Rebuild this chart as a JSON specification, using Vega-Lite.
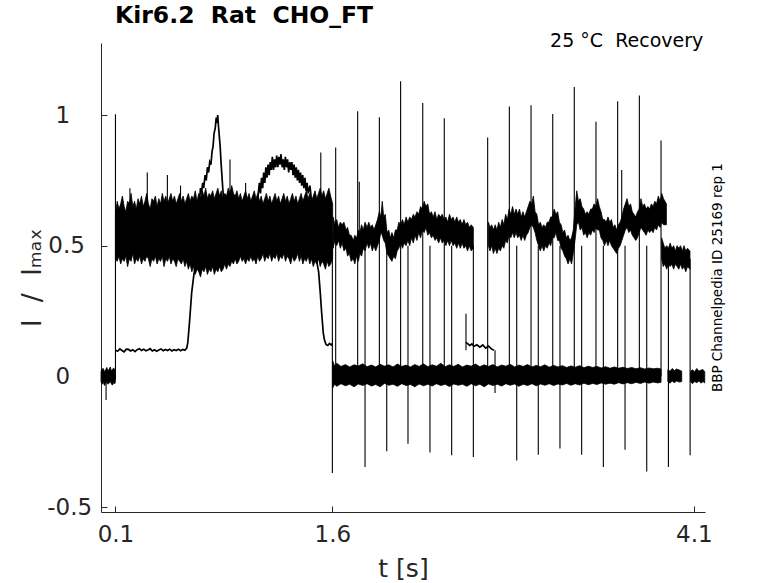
{
"$schema": "https://vega.github.io/schema/vega-lite/v6.json",
"width": 604, "height": 469,
"autosize": "none",
"padding": {"left": 101, "top": 43, "right": 73, "bottom": 71},
"title": {"text": "Kir6.2\u00a0\u00a0Rat\u00a0\u00a0CHO_FT", "anchor": "start", "frame": "group", "fontSize": 23.5, "fontWeight": "bold", "font": "DejaVu Sans", "color": "#000000", "baseline": "alphabetic", "offset": 16.3, "dx": 14, "dy": 30},
"config": {"view": {"stroke": null}, "font": "DejaVu Sans"},
"datasets": {
"bands": [
{"s":"a0","t":0,"v":-0.02,"v2":0.02},{"s":"a0","t":0.008,"v":-0.03,"v2":0.028},{"s":"a0","t":0.016,"v":-0.022,"v2":0.03},{"s":"a0","t":0.024,"v":-0.035,"v2":0.018},{"s":"a0","t":0.032,"v":-0.028,"v2":0.025},{"s":"a0","t":0.04,"v":-0.02,"v2":0.034},{"s":"a0","t":0.048,"v":-0.03,"v2":0.022},{"s":"a0","t":0.056,"v":-0.026,"v2":0.027},{"s":"a0","t":0.064,"v":-0.018,"v2":0.036},{"s":"a0","t":0.072,"v":-0.03,"v2":0.02},{"s":"a0","t":0.08,"v":-0.033,"v2":0.028},{"s":"a0","t":0.088,"v":-0.024,"v2":0.032},{"s":"a0","t":0.096,"v":-0.028,"v2":0.024},{"s":"a0","t":0.1,"v":-0.02,"v2":0.02},
{"s":"a1","t":0.1,"v":0.45,"v2":0.62},{"s":"a1","t":0.112,"v":0.44,"v2":0.67},{"s":"a1","t":0.124,"v":0.46,"v2":0.64},{"s":"a1","t":0.136,"v":0.43,"v2":0.66},{"s":"a1","t":0.148,"v":0.45,"v2":0.69},{"s":"a1","t":0.16,"v":0.44,"v2":0.65},{"s":"a1","t":0.172,"v":0.46,"v2":0.63},{"s":"a1","t":0.184,"v":0.42,"v2":0.67},{"s":"a1","t":0.196,"v":0.45,"v2":0.66},{"s":"a1","t":0.208,"v":0.44,"v2":0.7},{"s":"a1","t":0.22,"v":0.47,"v2":0.65},{"s":"a1","t":0.232,"v":0.43,"v2":0.67},{"s":"a1","t":0.244,"v":0.45,"v2":0.64},{"s":"a1","t":0.256,"v":0.44,"v2":0.68},{"s":"a1","t":0.268,"v":0.46,"v2":0.66},{"s":"a1","t":0.28,"v":0.43,"v2":0.69},{"s":"a1","t":0.292,"v":0.45,"v2":0.65},{"s":"a1","t":0.304,"v":0.44,"v2":0.67},{"s":"a1","t":0.316,"v":0.46,"v2":0.7},{"s":"a1","t":0.328,"v":0.45,"v2":0.66},{"s":"a1","t":0.34,"v":0.42,"v2":0.64},{"s":"a1","t":0.352,"v":0.45,"v2":0.68},{"s":"a1","t":0.364,"v":0.44,"v2":0.67},{"s":"a1","t":0.376,"v":0.46,"v2":0.69},{"s":"a1","t":0.388,"v":0.43,"v2":0.65},{"s":"a1","t":0.4,"v":0.45,"v2":0.68},{"s":"a1","t":0.412,"v":0.44,"v2":0.66},{"s":"a1","t":0.424,"v":0.46,"v2":0.7},{"s":"a1","t":0.436,"v":0.42,"v2":0.67},{"s":"a1","t":0.448,"v":0.45,"v2":0.69},{"s":"a1","t":0.46,"v":0.44,"v2":0.66},{"s":"a1","t":0.472,"v":0.46,"v2":0.68},{"s":"a1","t":0.484,"v":0.43,"v2":0.7},{"s":"a1","t":0.496,"v":0.45,"v2":0.67},{"s":"a1","t":0.508,"v":0.44,"v2":0.69},{"s":"a1","t":0.52,"v":0.42,"v2":0.66},{"s":"a1","t":0.532,"v":0.45,"v2":0.68},{"s":"a1","t":0.544,"v":0.44,"v2":0.7},{"s":"a1","t":0.556,"v":0.43,"v2":0.67},{"s":"a1","t":0.568,"v":0.45,"v2":0.69},{"s":"a1","t":0.58,"v":0.42,"v2":0.66},{"s":"a1","t":0.592,"v":0.44,"v2":0.68},{"s":"a1","t":0.604,"v":0.41,"v2":0.7},{"s":"a1","t":0.616,"v":0.43,"v2":0.67},{"s":"a1","t":0.628,"v":0.4,"v2":0.69},{"s":"a1","t":0.64,"v":0.42,"v2":0.68},{"s":"a1","t":0.652,"v":0.39,"v2":0.71},{"s":"a1","t":0.664,"v":0.41,"v2":0.67},{"s":"a1","t":0.676,"v":0.4,"v2":0.7},{"s":"a1","t":0.688,"v":0.38,"v2":0.68},{"s":"a1","t":0.7,"v":0.41,"v2":0.71},{"s":"a1","t":0.712,"v":0.4,"v2":0.69},{"s":"a1","t":0.724,"v":0.42,"v2":0.72},{"s":"a1","t":0.736,"v":0.39,"v2":0.68},{"s":"a1","t":0.748,"v":0.41,"v2":0.7},{"s":"a1","t":0.76,"v":0.4,"v2":0.69},{"s":"a1","t":0.772,"v":0.42,"v2":0.71},{"s":"a1","t":0.784,"v":0.39,"v2":0.68},{"s":"a1","t":0.796,"v":0.41,"v2":0.7},{"s":"a1","t":0.808,"v":0.4,"v2":0.72},{"s":"a1","t":0.82,"v":0.42,"v2":0.69},{"s":"a1","t":0.832,"v":0.4,"v2":0.71},{"s":"a1","t":0.844,"v":0.41,"v2":0.68},{"s":"a1","t":0.856,"v":0.43,"v2":0.7},{"s":"a1","t":0.868,"v":0.41,"v2":0.69},{"s":"a1","t":0.88,"v":0.43,"v2":0.72},{"s":"a1","t":0.892,"v":0.42,"v2":0.7},{"s":"a1","t":0.904,"v":0.44,"v2":0.73},{"s":"a1","t":0.916,"v":0.43,"v2":0.7},{"s":"a1","t":0.928,"v":0.45,"v2":0.69},{"s":"a1","t":0.94,"v":0.43,"v2":0.71},{"s":"a1","t":0.952,"v":0.44,"v2":0.68},{"s":"a1","t":0.964,"v":0.46,"v2":0.7},{"s":"a1","t":0.976,"v":0.44,"v2":0.67},{"s":"a1","t":0.988,"v":0.45,"v2":0.69},{"s":"a1","t":1.0,"v":0.43,"v2":0.71},{"s":"a1","t":1.012,"v":0.45,"v2":0.68},{"s":"a1","t":1.024,"v":0.44,"v2":0.7},{"s":"a1","t":1.036,"v":0.46,"v2":0.67},{"s":"a1","t":1.048,"v":0.44,"v2":0.69},{"s":"a1","t":1.06,"v":0.45,"v2":0.71},{"s":"a1","t":1.072,"v":0.43,"v2":0.68},{"s":"a1","t":1.084,"v":0.46,"v2":0.7},{"s":"a1","t":1.096,"v":0.44,"v2":0.67},{"s":"a1","t":1.108,"v":0.45,"v2":0.69},{"s":"a1","t":1.12,"v":0.47,"v2":0.66},{"s":"a1","t":1.132,"v":0.44,"v2":0.68},{"s":"a1","t":1.144,"v":0.46,"v2":0.7},{"s":"a1","t":1.156,"v":0.45,"v2":0.67},{"s":"a1","t":1.168,"v":0.47,"v2":0.69},{"s":"a1","t":1.18,"v":0.44,"v2":0.66},{"s":"a1","t":1.192,"v":0.46,"v2":0.68},{"s":"a1","t":1.204,"v":0.45,"v2":0.7},{"s":"a1","t":1.216,"v":0.47,"v2":0.67},{"s":"a1","t":1.228,"v":0.44,"v2":0.69},{"s":"a1","t":1.24,"v":0.46,"v2":0.66},{"s":"a1","t":1.252,"v":0.45,"v2":0.68},{"s":"a1","t":1.264,"v":0.47,"v2":0.7},{"s":"a1","t":1.276,"v":0.44,"v2":0.67},{"s":"a1","t":1.288,"v":0.46,"v2":0.69},{"s":"a1","t":1.3,"v":0.45,"v2":0.66},{"s":"a1","t":1.312,"v":0.43,"v2":0.68},{"s":"a1","t":1.324,"v":0.46,"v2":0.7},{"s":"a1","t":1.336,"v":0.44,"v2":0.67},{"s":"a1","t":1.348,"v":0.45,"v2":0.69},{"s":"a1","t":1.36,"v":0.47,"v2":0.66},{"s":"a1","t":1.372,"v":0.44,"v2":0.68},{"s":"a1","t":1.384,"v":0.46,"v2":0.7},{"s":"a1","t":1.396,"v":0.43,"v2":0.67},{"s":"a1","t":1.408,"v":0.45,"v2":0.69},{"s":"a1","t":1.42,"v":0.44,"v2":0.71},{"s":"a1","t":1.432,"v":0.46,"v2":0.68},{"s":"a1","t":1.444,"v":0.43,"v2":0.7},{"s":"a1","t":1.456,"v":0.45,"v2":0.67},{"s":"a1","t":1.468,"v":0.42,"v2":0.69},{"s":"a1","t":1.48,"v":0.44,"v2":0.71},{"s":"a1","t":1.492,"v":0.43,"v2":0.68},{"s":"a1","t":1.504,"v":0.45,"v2":0.7},{"s":"a1","t":1.516,"v":0.42,"v2":0.72},{"s":"a1","t":1.528,"v":0.44,"v2":0.69},{"s":"a1","t":1.54,"v":0.43,"v2":0.71},{"s":"a1","t":1.552,"v":0.41,"v2":0.68},{"s":"a1","t":1.564,"v":0.44,"v2":0.7},{"s":"a1","t":1.576,"v":0.42,"v2":0.72},{"s":"a1","t":1.588,"v":0.43,"v2":0.69},{"s":"a1","t":1.602,"v":0.45,"v2":0.66},
{"s":"a2","t":1.602,"v":-0.045,"v2":0.06},{"s":"a2","t":1.615,"v":-0.03,"v2":0.04},{"s":"a2","t":1.63,"v":-0.038,"v2":0.05},{"s":"a2","t":1.66,"v":-0.028,"v2":0.038},{"s":"a2","t":1.69,"v":-0.036,"v2":0.045},{"s":"a2","t":1.72,"v":-0.03,"v2":0.036},{"s":"a2","t":1.75,"v":-0.04,"v2":0.044},{"s":"a2","t":1.78,"v":-0.029,"v2":0.04},{"s":"a2","t":1.81,"v":-0.035,"v2":0.048},{"s":"a2","t":1.84,"v":-0.028,"v2":0.037},{"s":"a2","t":1.87,"v":-0.037,"v2":0.043},{"s":"a2","t":1.9,"v":-0.031,"v2":0.036},{"s":"a2","t":1.93,"v":-0.04,"v2":0.046},{"s":"a2","t":1.96,"v":-0.027,"v2":0.039},{"s":"a2","t":1.99,"v":-0.034,"v2":0.044},{"s":"a2","t":2.02,"v":-0.03,"v2":0.036},{"s":"a2","t":2.05,"v":-0.038,"v2":0.047},{"s":"a2","t":2.08,"v":-0.028,"v2":0.038},{"s":"a2","t":2.11,"v":-0.035,"v2":0.043},{"s":"a2","t":2.14,"v":-0.031,"v2":0.036},{"s":"a2","t":2.17,"v":-0.04,"v2":0.045},{"s":"a2","t":2.2,"v":-0.029,"v2":0.038},{"s":"a2","t":2.23,"v":-0.036,"v2":0.048},{"s":"a2","t":2.26,"v":-0.03,"v2":0.037},{"s":"a2","t":2.29,"v":-0.037,"v2":0.044},{"s":"a2","t":2.32,"v":-0.028,"v2":0.039},{"s":"a2","t":2.35,"v":-0.035,"v2":0.05},{"s":"a2","t":2.38,"v":-0.03,"v2":0.037},{"s":"a2","t":2.41,"v":-0.039,"v2":0.044},{"s":"a2","t":2.44,"v":-0.029,"v2":0.038},{"s":"a2","t":2.47,"v":-0.034,"v2":0.046},{"s":"a2","t":2.5,"v":-0.03,"v2":0.036},{"s":"a2","t":2.53,"v":-0.038,"v2":0.043},{"s":"a2","t":2.56,"v":-0.028,"v2":0.039},{"s":"a2","t":2.59,"v":-0.036,"v2":0.047},{"s":"a2","t":2.62,"v":-0.03,"v2":0.037},{"s":"a2","t":2.65,"v":-0.04,"v2":0.044},{"s":"a2","t":2.68,"v":-0.029,"v2":0.038},{"s":"a2","t":2.71,"v":-0.035,"v2":0.045},{"s":"a2","t":2.74,"v":-0.03,"v2":0.036},{"s":"a2","t":2.77,"v":-0.037,"v2":0.043},{"s":"a2","t":2.8,"v":-0.028,"v2":0.039},{"s":"a2","t":2.83,"v":-0.034,"v2":0.046},{"s":"a2","t":2.86,"v":-0.029,"v2":0.036},{"s":"a2","t":2.89,"v":-0.038,"v2":0.043},{"s":"a2","t":2.92,"v":-0.03,"v2":0.038},{"s":"a2","t":2.95,"v":-0.035,"v2":0.045},{"s":"a2","t":2.98,"v":-0.028,"v2":0.036},{"s":"a2","t":3.01,"v":-0.036,"v2":0.042},{"s":"a2","t":3.04,"v":-0.029,"v2":0.037},{"s":"a2","t":3.07,"v":-0.034,"v2":0.044},{"s":"a2","t":3.1,"v":-0.028,"v2":0.035},{"s":"a2","t":3.13,"v":-0.035,"v2":0.042},{"s":"a2","t":3.16,"v":-0.029,"v2":0.036},{"s":"a2","t":3.19,"v":-0.033,"v2":0.041},{"s":"a2","t":3.22,"v":-0.027,"v2":0.034},{"s":"a2","t":3.25,"v":-0.034,"v2":0.04},{"s":"a2","t":3.28,"v":-0.028,"v2":0.035},{"s":"a2","t":3.31,"v":-0.033,"v2":0.041},{"s":"a2","t":3.34,"v":-0.026,"v2":0.033},{"s":"a2","t":3.37,"v":-0.032,"v2":0.039},{"s":"a2","t":3.4,"v":-0.027,"v2":0.034},{"s":"a2","t":3.43,"v":-0.031,"v2":0.038},{"s":"a2","t":3.46,"v":-0.025,"v2":0.032},{"s":"a2","t":3.49,"v":-0.03,"v2":0.037},{"s":"a2","t":3.52,"v":-0.026,"v2":0.031},{"s":"a2","t":3.55,"v":-0.03,"v2":0.036},{"s":"a2","t":3.58,"v":-0.024,"v2":0.031},{"s":"a2","t":3.61,"v":-0.029,"v2":0.035},{"s":"a2","t":3.64,"v":-0.024,"v2":0.03},{"s":"a2","t":3.67,"v":-0.028,"v2":0.034},{"s":"a2","t":3.7,"v":-0.023,"v2":0.029},{"s":"a2","t":3.73,"v":-0.027,"v2":0.033},{"s":"a2","t":3.76,"v":-0.022,"v2":0.028},{"s":"a2","t":3.79,"v":-0.026,"v2":0.032},{"s":"a2","t":3.82,"v":-0.022,"v2":0.029},{"s":"a2","t":3.85,"v":-0.025,"v2":0.031},{"s":"a2","t":3.873,"v":-0.023,"v2":0.028},
{"s":"a3","t":3.92,"v":-0.02,"v2":0.025},{"s":"a3","t":3.935,"v":-0.026,"v2":0.02},{"s":"a3","t":3.95,"v":-0.018,"v2":0.03},{"s":"a3","t":3.965,"v":-0.024,"v2":0.022},{"s":"a3","t":3.98,"v":-0.018,"v2":0.028},{"s":"a3","t":4.0,"v":-0.022,"v2":0.024},{"s":"a3","t":4.016,"v":-0.02,"v2":0.02},
{"s":"a4","t":4.076,"v":-0.02,"v2":0.02},{"s":"a4","t":4.09,"v":-0.028,"v2":0.025},{"s":"a4","t":4.105,"v":-0.02,"v2":0.018},{"s":"a4","t":4.12,"v":-0.024,"v2":0.03},{"s":"a4","t":4.135,"v":-0.018,"v2":0.02},{"s":"a4","t":4.15,"v":-0.026,"v2":0.024},{"s":"a4","t":4.163,"v":-0.02,"v2":0.026},{"s":"a4","t":4.175,"v":-0.025,"v2":0.018},
{"s":"u1","t":1.605,"v":0.49,"v2":0.61},{"s":"u1","t":1.618,"v":0.52,"v2":0.58},{"s":"u1","t":1.63,"v":0.5,"v2":0.6},{"s":"u1","t":1.643,"v":0.52,"v2":0.57},{"s":"u1","t":1.655,"v":0.49,"v2":0.59},{"s":"u1","t":1.668,"v":0.51,"v2":0.58},{"s":"u1","t":1.68,"v":0.48,"v2":0.59},{"s":"u1","t":1.695,"v":0.49,"v2":0.56},{"s":"u1","t":1.705,"v":0.46,"v2":0.57},{"s":"u1","t":1.718,"v":0.47,"v2":0.54},{"s":"u1","t":1.73,"v":0.44,"v2":0.54},{"s":"u1","t":1.745,"v":0.45,"v2":0.52},{"s":"u1","t":1.755,"v":0.43,"v2":0.54},{"s":"u1","t":1.768,"v":0.46,"v2":0.53},{"s":"u1","t":1.78,"v":0.44,"v2":0.56},{"s":"u1","t":1.79,"v":0.47,"v2":0.55},{"s":"u1","t":1.802,"v":0.46,"v2":0.58},{"s":"u1","t":1.814,"v":0.49,"v2":0.56},{"s":"u1","t":1.826,"v":0.48,"v2":0.59},{"s":"u1","t":1.84,"v":0.51,"v2":0.57},{"s":"u1","t":1.852,"v":0.49,"v2":0.59},{"s":"u1","t":1.864,"v":0.51,"v2":0.57},{"s":"u1","t":1.876,"v":0.48,"v2":0.58},{"s":"u1","t":1.888,"v":0.5,"v2":0.56},{"s":"u1","t":1.9,"v":0.48,"v2":0.58},{"s":"u1","t":1.912,"v":0.5,"v2":0.6},{"s":"u1","t":1.925,"v":0.52,"v2":0.63},{"s":"u1","t":1.935,"v":0.55,"v2":0.61},{"s":"u1","t":1.945,"v":0.54,"v2":0.67},{"s":"u1","t":1.955,"v":0.52,"v2":0.61},{"s":"u1","t":1.966,"v":0.51,"v2":0.62},{"s":"u1","t":1.978,"v":0.47,"v2":0.55},{"s":"u1","t":1.99,"v":0.46,"v2":0.56},{"s":"u1","t":2.0,"v":0.45,"v2":0.53},{"s":"u1","t":2.012,"v":0.44,"v2":0.55},{"s":"u1","t":2.024,"v":0.46,"v2":0.53},{"s":"u1","t":2.036,"v":0.45,"v2":0.56},{"s":"u1","t":2.048,"v":0.48,"v2":0.56},{"s":"u1","t":2.06,"v":0.49,"v2":0.59},{"s":"u1","t":2.072,"v":0.51,"v2":0.58},{"s":"u1","t":2.085,"v":0.49,"v2":0.6},{"s":"u1","t":2.097,"v":0.51,"v2":0.58},{"s":"u1","t":2.11,"v":0.5,"v2":0.61},{"s":"u1","t":2.122,"v":0.52,"v2":0.59},{"s":"u1","t":2.135,"v":0.5,"v2":0.61},{"s":"u1","t":2.147,"v":0.53,"v2":0.6},{"s":"u1","t":2.16,"v":0.51,"v2":0.62},{"s":"u1","t":2.172,"v":0.54,"v2":0.61},{"s":"u1","t":2.185,"v":0.52,"v2":0.63},{"s":"u1","t":2.197,"v":0.55,"v2":0.62},{"s":"u1","t":2.21,"v":0.53,"v2":0.65},{"s":"u1","t":2.222,"v":0.56,"v2":0.64},{"s":"u1","t":2.235,"v":0.55,"v2":0.67},{"s":"u1","t":2.247,"v":0.57,"v2":0.65},{"s":"u1","t":2.26,"v":0.54,"v2":0.66},{"s":"u1","t":2.272,"v":0.55,"v2":0.62},{"s":"u1","t":2.285,"v":0.53,"v2":0.63},{"s":"u1","t":2.297,"v":0.54,"v2":0.61},{"s":"u1","t":2.31,"v":0.52,"v2":0.63},{"s":"u1","t":2.322,"v":0.53,"v2":0.6},{"s":"u1","t":2.335,"v":0.51,"v2":0.62},{"s":"u1","t":2.347,"v":0.53,"v2":0.61},{"s":"u1","t":2.36,"v":0.51,"v2":0.62},{"s":"u1","t":2.372,"v":0.52,"v2":0.6},{"s":"u1","t":2.385,"v":0.5,"v2":0.61},{"s":"u1","t":2.397,"v":0.52,"v2":0.59},{"s":"u1","t":2.41,"v":0.5,"v2":0.62},{"s":"u1","t":2.422,"v":0.52,"v2":0.6},{"s":"u1","t":2.435,"v":0.5,"v2":0.61},{"s":"u1","t":2.447,"v":0.51,"v2":0.59},{"s":"u1","t":2.46,"v":0.49,"v2":0.61},{"s":"u1","t":2.472,"v":0.51,"v2":0.59},{"s":"u1","t":2.485,"v":0.49,"v2":0.6},{"s":"u1","t":2.497,"v":0.51,"v2":0.58},{"s":"u1","t":2.51,"v":0.49,"v2":0.6},{"s":"u1","t":2.522,"v":0.5,"v2":0.58},{"s":"u1","t":2.535,"v":0.48,"v2":0.59},{"s":"u1","t":2.547,"v":0.5,"v2":0.57},{"s":"u1","t":2.56,"v":0.48,"v2":0.58},{"s":"u1","t":2.575,"v":0.49,"v2":0.57},
{"s":"u2","t":2.679,"v":0.5,"v2":0.59},{"s":"u2","t":2.69,"v":0.48,"v2":0.57},{"s":"u2","t":2.702,"v":0.5,"v2":0.58},{"s":"u2","t":2.714,"v":0.47,"v2":0.56},{"s":"u2","t":2.726,"v":0.49,"v2":0.58},{"s":"u2","t":2.738,"v":0.47,"v2":0.56},{"s":"u2","t":2.75,"v":0.49,"v2":0.59},{"s":"u2","t":2.762,"v":0.48,"v2":0.57},{"s":"u2","t":2.774,"v":0.5,"v2":0.6},{"s":"u2","t":2.786,"v":0.49,"v2":0.58},{"s":"u2","t":2.798,"v":0.52,"v2":0.62},{"s":"u2","t":2.81,"v":0.51,"v2":0.6},{"s":"u2","t":2.822,"v":0.54,"v2":0.64},{"s":"u2","t":2.834,"v":0.53,"v2":0.62},{"s":"u2","t":2.846,"v":0.55,"v2":0.65},{"s":"u2","t":2.858,"v":0.53,"v2":0.62},{"s":"u2","t":2.87,"v":0.55,"v2":0.64},{"s":"u2","t":2.882,"v":0.53,"v2":0.62},{"s":"u2","t":2.894,"v":0.54,"v2":0.64},{"s":"u2","t":2.906,"v":0.52,"v2":0.61},{"s":"u2","t":2.918,"v":0.54,"v2":0.63},{"s":"u2","t":2.93,"v":0.52,"v2":0.61},{"s":"u2","t":2.942,"v":0.54,"v2":0.63},{"s":"u2","t":2.954,"v":0.55,"v2":0.65},{"s":"u2","t":2.966,"v":0.57,"v2":0.67},{"s":"u2","t":2.978,"v":0.58,"v2":0.66},{"s":"u2","t":2.99,"v":0.57,"v2":0.69},{"s":"u2","t":3.002,"v":0.55,"v2":0.63},{"s":"u2","t":3.014,"v":0.52,"v2":0.62},{"s":"u2","t":3.026,"v":0.5,"v2":0.58},{"s":"u2","t":3.038,"v":0.48,"v2":0.59},{"s":"u2","t":3.05,"v":0.5,"v2":0.57},{"s":"u2","t":3.062,"v":0.48,"v2":0.58},{"s":"u2","t":3.074,"v":0.5,"v2":0.57},{"s":"u2","t":3.086,"v":0.49,"v2":0.59},{"s":"u2","t":3.098,"v":0.51,"v2":0.59},{"s":"u2","t":3.11,"v":0.5,"v2":0.61},{"s":"u2","t":3.122,"v":0.53,"v2":0.61},{"s":"u2","t":3.134,"v":0.53,"v2":0.64},{"s":"u2","t":3.146,"v":0.55,"v2":0.62},{"s":"u2","t":3.158,"v":0.52,"v2":0.63},{"s":"u2","t":3.17,"v":0.52,"v2":0.59},{"s":"u2","t":3.182,"v":0.49,"v2":0.58},{"s":"u2","t":3.194,"v":0.48,"v2":0.55},{"s":"u2","t":3.206,"v":0.46,"v2":0.56},{"s":"u2","t":3.218,"v":0.45,"v2":0.53},{"s":"u2","t":3.23,"v":0.43,"v2":0.54},{"s":"u2","t":3.242,"v":0.45,"v2":0.52},{"s":"u2","t":3.254,"v":0.43,"v2":0.53},{"s":"u2","t":3.266,"v":0.47,"v2":0.56},{"s":"u2","t":3.278,"v":0.52,"v2":0.64},{"s":"u2","t":3.29,"v":0.58,"v2":0.71},{"s":"u2","t":3.302,"v":0.59,"v2":0.67},{"s":"u2","t":3.314,"v":0.56,"v2":0.68},{"s":"u2","t":3.326,"v":0.57,"v2":0.65},{"s":"u2","t":3.338,"v":0.54,"v2":0.64},{"s":"u2","t":3.35,"v":0.55,"v2":0.62},{"s":"u2","t":3.362,"v":0.53,"v2":0.63},{"s":"u2","t":3.374,"v":0.55,"v2":0.62},{"s":"u2","t":3.386,"v":0.54,"v2":0.64},{"s":"u2","t":3.398,"v":0.56,"v2":0.64},{"s":"u2","t":3.41,"v":0.55,"v2":0.66},{"s":"u2","t":3.422,"v":0.57,"v2":0.65},{"s":"u2","t":3.434,"v":0.56,"v2":0.68},{"s":"u2","t":3.446,"v":0.56,"v2":0.65},{"s":"u2","t":3.458,"v":0.53,"v2":0.63},{"s":"u2","t":3.47,"v":0.52,"v2":0.6},{"s":"u2","t":3.482,"v":0.5,"v2":0.6},{"s":"u2","t":3.494,"v":0.52,"v2":0.59},{"s":"u2","t":3.506,"v":0.5,"v2":0.61},{"s":"u2","t":3.518,"v":0.52,"v2":0.59},{"s":"u2","t":3.53,"v":0.5,"v2":0.6},{"s":"u2","t":3.542,"v":0.49,"v2":0.57},{"s":"u2","t":3.554,"v":0.48,"v2":0.58},{"s":"u2","t":3.566,"v":0.47,"v2":0.56},{"s":"u2","t":3.578,"v":0.49,"v2":0.58},{"s":"u2","t":3.59,"v":0.5,"v2":0.59},{"s":"u2","t":3.602,"v":0.52,"v2":0.61},{"s":"u2","t":3.614,"v":0.54,"v2":0.64},{"s":"u2","t":3.626,"v":0.56,"v2":0.66},{"s":"u2","t":3.638,"v":0.57,"v2":0.68},{"s":"u2","t":3.65,"v":0.55,"v2":0.65},{"s":"u2","t":3.662,"v":0.56,"v2":0.66},{"s":"u2","t":3.674,"v":0.54,"v2":0.63},{"s":"u2","t":3.686,"v":0.53,"v2":0.62},{"s":"u2","t":3.698,"v":0.52,"v2":0.61},{"s":"u2","t":3.71,"v":0.53,"v2":0.63},{"s":"u2","t":3.722,"v":0.55,"v2":0.64},{"s":"u2","t":3.734,"v":0.57,"v2":0.68},{"s":"u2","t":3.746,"v":0.56,"v2":0.65},{"s":"u2","t":3.758,"v":0.55,"v2":0.66},{"s":"u2","t":3.77,"v":0.54,"v2":0.64},{"s":"u2","t":3.782,"v":0.56,"v2":0.65},{"s":"u2","t":3.794,"v":0.55,"v2":0.64},{"s":"u2","t":3.806,"v":0.56,"v2":0.66},{"s":"u2","t":3.818,"v":0.55,"v2":0.65},{"s":"u2","t":3.83,"v":0.57,"v2":0.67},{"s":"u2","t":3.842,"v":0.56,"v2":0.66},{"s":"u2","t":3.854,"v":0.58,"v2":0.69},{"s":"u2","t":3.866,"v":0.57,"v2":0.67},{"s":"u2","t":3.878,"v":0.59,"v2":0.7},{"s":"u2","t":3.89,"v":0.58,"v2":0.68},{"s":"u2","t":3.91,"v":0.58,"v2":0.66},
{"s":"u3","t":3.877,"v":0.45,"v2":0.53},{"s":"u3","t":3.888,"v":0.42,"v2":0.51},{"s":"u3","t":3.9,"v":0.43,"v2":0.49},{"s":"u3","t":3.912,"v":0.41,"v2":0.5},{"s":"u3","t":3.924,"v":0.43,"v2":0.49},{"s":"u3","t":3.936,"v":0.42,"v2":0.51},{"s":"u3","t":3.948,"v":0.43,"v2":0.49},{"s":"u3","t":3.96,"v":0.41,"v2":0.5},{"s":"u3","t":3.972,"v":0.43,"v2":0.48},{"s":"u3","t":3.984,"v":0.42,"v2":0.5},{"s":"u3","t":3.996,"v":0.41,"v2":0.49},{"s":"u3","t":4.008,"v":0.43,"v2":0.5},{"s":"u3","t":4.02,"v":0.41,"v2":0.48},{"s":"u3","t":4.032,"v":0.42,"v2":0.5},{"s":"u3","t":4.044,"v":0.4,"v2":0.48},{"s":"u3","t":4.056,"v":0.42,"v2":0.49},{"s":"u3","t":4.073,"v":0.41,"v2":0.48}
],
"traces": [
{"s":"slow","t":0.1,"v":0.1},{"s":"slow","t":0.115,"v":0.096},{"s":"slow","t":0.13,"v":0.105},{"s":"slow","t":0.145,"v":0.099},{"s":"slow","t":0.16,"v":0.094},{"s":"slow","t":0.175,"v":0.104},{"s":"slow","t":0.19,"v":0.103},{"s":"slow","t":0.205,"v":0.097},{"s":"slow","t":0.22,"v":0.102},{"s":"slow","t":0.235,"v":0.095},{"s":"slow","t":0.25,"v":0.102},{"s":"slow","t":0.265,"v":0.106},{"s":"slow","t":0.28,"v":0.099},{"s":"slow","t":0.295,"v":0.104},{"s":"slow","t":0.31,"v":0.098},{"s":"slow","t":0.325,"v":0.101},{"s":"slow","t":0.34,"v":0.106},{"s":"slow","t":0.355,"v":0.097},{"s":"slow","t":0.37,"v":0.102},{"s":"slow","t":0.385,"v":0.096},{"s":"slow","t":0.4,"v":0.101},{"s":"slow","t":0.415,"v":0.105},{"s":"slow","t":0.43,"v":0.098},{"s":"slow","t":0.445,"v":0.103},{"s":"slow","t":0.46,"v":0.099},{"s":"slow","t":0.475,"v":0.104},{"s":"slow","t":0.49,"v":0.097},{"s":"slow","t":0.505,"v":0.102},{"s":"slow","t":0.52,"v":0.099},{"s":"slow","t":0.535,"v":0.104},{"s":"slow","t":0.55,"v":0.098},{"s":"slow","t":0.565,"v":0.103},{"s":"slow","t":0.58,"v":0.1},{"s":"slow","t":0.593,"v":0.108},{"s":"slow","t":0.6,"v":0.128},{"s":"slow","t":0.608,"v":0.18},{"s":"slow","t":0.615,"v":0.229},{"s":"slow","t":0.627,"v":0.32},{"s":"slow","t":0.638,"v":0.37},{"s":"slow","t":0.65,"v":0.42},{"s":"slow","t":0.66,"v":0.5},{"s":"slow","t":0.672,"v":0.6},{"s":"slow","t":0.68,"v":0.66},{"s":"slow","t":0.688,"v":0.72},{"s":"slow","t":0.695,"v":0.7},{"s":"slow","t":0.703,"v":0.74},{"s":"slow","t":0.71,"v":0.72},{"s":"slow","t":0.72,"v":0.77},{"s":"slow","t":0.728,"v":0.75},{"s":"slow","t":0.736,"v":0.8},{"s":"slow","t":0.744,"v":0.78},{"s":"slow","t":0.752,"v":0.82},{"s":"slow","t":0.76,"v":0.81},{"s":"slow","t":0.768,"v":0.86},{"s":"slow","t":0.775,"v":0.88},{"s":"slow","t":0.782,"v":0.93},{"s":"slow","t":0.79,"v":0.95},{"s":"slow","t":0.797,"v":0.99},{"s":"slow","t":0.803,"v":0.97},{"s":"slow","t":0.807,"v":1.0},{"s":"slow","t":0.812,"v":0.96},{"s":"slow","t":0.818,"v":0.92},{"s":"slow","t":0.824,"v":0.88},{"s":"slow","t":0.83,"v":0.82},{"s":"slow","t":0.836,"v":0.77},{"s":"slow","t":0.842,"v":0.72},{"s":"slow","t":0.848,"v":0.68},{"s":"slow","t":0.855,"v":0.63},{"s":"slow","t":0.865,"v":0.6},{"s":"slow","t":0.9,"v":0.57},{"s":"slow","t":1.0,"v":0.58},{"s":"slow","t":1.07,"v":0.62},{"s":"slow","t":1.088,"v":0.7},{"s":"slow","t":1.095,"v":0.74},{"s":"slow","t":1.103,"v":0.7},{"s":"slow","t":1.11,"v":0.76},{"s":"slow","t":1.118,"v":0.72},{"s":"slow","t":1.125,"v":0.78},{"s":"slow","t":1.133,"v":0.74},{"s":"slow","t":1.14,"v":0.8},{"s":"slow","t":1.148,"v":0.76},{"s":"slow","t":1.155,"v":0.81},{"s":"slow","t":1.163,"v":0.77},{"s":"slow","t":1.17,"v":0.82},{"s":"slow","t":1.178,"v":0.79},{"s":"slow","t":1.185,"v":0.84},{"s":"slow","t":1.193,"v":0.79},{"s":"slow","t":1.2,"v":0.83},{"s":"slow","t":1.208,"v":0.8},{"s":"slow","t":1.215,"v":0.845},{"s":"slow","t":1.223,"v":0.8},{"s":"slow","t":1.23,"v":0.84},{"s":"slow","t":1.238,"v":0.81},{"s":"slow","t":1.245,"v":0.85},{"s":"slow","t":1.253,"v":0.8},{"s":"slow","t":1.26,"v":0.83},{"s":"slow","t":1.268,"v":0.79},{"s":"slow","t":1.275,"v":0.84},{"s":"slow","t":1.283,"v":0.8},{"s":"slow","t":1.29,"v":0.83},{"s":"slow","t":1.298,"v":0.78},{"s":"slow","t":1.305,"v":0.82},{"s":"slow","t":1.313,"v":0.79},{"s":"slow","t":1.32,"v":0.82},{"s":"slow","t":1.328,"v":0.77},{"s":"slow","t":1.335,"v":0.81},{"s":"slow","t":1.343,"v":0.76},{"s":"slow","t":1.35,"v":0.8},{"s":"slow","t":1.358,"v":0.75},{"s":"slow","t":1.365,"v":0.79},{"s":"slow","t":1.373,"v":0.74},{"s":"slow","t":1.38,"v":0.78},{"s":"slow","t":1.388,"v":0.73},{"s":"slow","t":1.395,"v":0.77},{"s":"slow","t":1.403,"v":0.72},{"s":"slow","t":1.41,"v":0.76},{"s":"slow","t":1.418,"v":0.71},{"s":"slow","t":1.425,"v":0.74},{"s":"slow","t":1.433,"v":0.7},{"s":"slow","t":1.445,"v":0.73},{"s":"slow","t":1.46,"v":0.65},{"s":"slow","t":1.475,"v":0.55},{"s":"slow","t":1.49,"v":0.446},{"s":"slow","t":1.505,"v":0.4},{"s":"slow","t":1.515,"v":0.33},{"s":"slow","t":1.525,"v":0.25},{"s":"slow","t":1.537,"v":0.166},{"s":"slow","t":1.545,"v":0.14},{"s":"slow","t":1.556,"v":0.122},{"s":"slow","t":1.568,"v":0.118},{"s":"slow","t":1.58,"v":0.126},{"s":"slow","t":1.592,"v":0.12},{"s":"slow","t":1.6,"v":0.125},
{"s":"mid","t":2.524,"v":0.13},{"s":"mid","t":2.535,"v":0.125},{"s":"mid","t":2.55,"v":0.118},{"s":"mid","t":2.565,"v":0.124},{"s":"mid","t":2.58,"v":0.115},{"s":"mid","t":2.6,"v":0.121},{"s":"mid","t":2.62,"v":0.112},{"s":"mid","t":2.64,"v":0.12},{"s":"mid","t":2.66,"v":0.108},{"s":"mid","t":2.68,"v":0.116},{"s":"mid","t":2.7,"v":0.105},{"s":"mid","t":2.718,"v":0.1}
],
"spikes": [
{"t":0.035,"v":0,"v2":-0.09},{"t":0.1,"v":-0.01,"v2":1.003},{"t":0.2,"v":0.6,"v2":0.72},{"t":0.32,"v":0.6,"v2":0.78},{"t":0.459,"v":0.6,"v2":0.77},{"t":0.55,"v":0.6,"v2":0.73},{"t":0.892,"v":0.6,"v2":0.83},{"t":1.0,"v":0.6,"v2":0.74},{"t":1.52,"v":0.6,"v2":0.857},
{"t":1.6,"v":0.55,"v2":-0.37},{"t":1.623,"v":0,"v2":0.876},{"t":1.775,"v":0,"v2":1.014},{"t":1.786,"v":0.55,"v2":0.745},{"t":1.826,"v":0.5,"v2":-0.347},{"t":1.925,"v":0,"v2":0.991},{"t":1.976,"v":0.5,"v2":-0.287},{"t":2.072,"v":0,"v2":1.129},{"t":2.123,"v":0.5,"v2":-0.258},{"t":2.225,"v":0,"v2":1.046},{"t":2.275,"v":0.5,"v2":-0.291},{"t":2.374,"v":0,"v2":0.988},{"t":2.425,"v":0.5,"v2":-0.302},{"t":2.524,"v":0.1,"v2":0.24},{"t":2.575,"v":0.5,"v2":-0.309},{"t":2.674,"v":0,"v2":0.914},{"t":2.725,"v":0.1,"v2":-0.064},{"t":2.824,"v":0,"v2":1.033},{"t":2.875,"v":0.5,"v2":-0.322},{"t":2.974,"v":0,"v2":1.037},{"t":3.024,"v":0.5,"v2":-0.3},{"t":3.124,"v":0,"v2":1.004},{"t":3.174,"v":0.5,"v2":-0.276},{"t":3.273,"v":0,"v2":1.107},{"t":3.324,"v":0.5,"v2":-0.3},{"t":3.423,"v":0,"v2":0.974},{"t":3.474,"v":0.5,"v2":-0.347},{"t":3.573,"v":0,"v2":1.053},{"t":3.601,"v":0.55,"v2":0.79},{"t":3.624,"v":0.5,"v2":-0.281},{"t":3.723,"v":0,"v2":1.075},{"t":3.774,"v":0.5,"v2":-0.364},{"t":3.873,"v":0,"v2":0.902},{"t":3.924,"v":0.45,"v2":-0.347},{"t":4.074,"v":0.45,"v2":-0.302}
]
},
"layer": [
{"data": {"name": "bands"}, "mark": {"type": "area", "color": "#000000", "stroke": "#000000", "strokeWidth": 0.8, "opacity": 1},
 "encoding": {
  "x": {"field": "t", "type": "quantitative",
   "scale": {"domain": [0, 4.177], "nice": false, "zero": false},
   "axis": {"values": [0.1, 1.6, 4.1], "labelExpr": "'' + datum.value", "title": "t [s]", "grid": false,
    "domainColor": "#262626", "domainWidth": 1, "tickColor": "#262626", "tickWidth": 1, "tickSize": -6,
    "labelFont": "DejaVu Sans", "labelFontSize": 23, "labelColor": "#262626", "labelPadding": 17.3, "labelFlush": false,
    "titleFont": "DejaVu Sans", "titleFontSize": 25, "titleFontWeight": "normal", "titleColor": "#262626", "titleBaseline": "alphabetic", "titleY": 64.7}},
  "y": {"field": "v", "type": "quantitative",
   "scale": {"domain": [-0.519, 1.2755], "nice": false, "zero": false},
   "axis": {"values": [-0.5, 0, 0.5, 1], "labelExpr": "'' + datum.value", "title": "I\u00a0\u00a0/\u00a0\u00a0Iₘₐₓ", "grid": false,
    "domainColor": "#262626", "domainWidth": 1, "tickColor": "#262626", "tickWidth": 1, "tickSize": -6,
    "labelFont": "DejaVu Sans", "labelFontSize": 23, "labelColor": "#262626",
    "labelPadding": {"condition": [{"test": "datum.value == 1 || datum.value == 0", "value": 37.3}, {"test": "datum.value == 0.5", "value": 22.6}], "value": 15.3},
    "labelFlush": false,
    "titleFont": "DejaVu Sans", "titleFontSize": 27, "titleFontWeight": "normal", "titleColor": "#262626", "titleBaseline": "alphabetic", "titleX": -61}},
  "y2": {"field": "v2"}, "detail": {"field": "s"}}},
{"data": {"name": "traces"}, "mark": {"type": "line", "color": "#000000", "strokeWidth": 1.7},
 "encoding": {"x": {"field": "t", "type": "quantitative"}, "y": {"field": "v", "type": "quantitative"}, "detail": {"field": "s"}}},
{"data": {"name": "spikes"}, "mark": {"type": "rule", "color": "#000000", "strokeWidth": 1.1},
 "encoding": {"x": {"field": "t", "type": "quantitative"}, "y": {"field": "v", "type": "quantitative"}, "y2": {"field": "v2"}}},
{"data": {"values": [{"label": "25 °C\u00a0\u00a0Recovery"}]}, "mark": {"type": "text", "align": "right", "baseline": "alphabetic", "font": "DejaVu Sans", "fontSize": 19, "color": "#000000"},
 "encoding": {"x": {"datum": 4.165, "type": "quantitative"}, "y": {"datum": 1.259, "type": "quantitative"}, "text": {"field": "label"}}},
{"data": {"values": [{"label": "BBP Channelpedia ID 25169 rep 1"}]}, "mark": {"type": "text", "align": "center", "baseline": "middle", "angle": 270, "font": "DejaVu Sans", "fontSize": 13.5, "color": "#000000"},
 "encoding": {"x": {"datum": 4.267, "type": "quantitative"}, "y": {"datum": 0.378, "type": "quantitative"}, "text": {"field": "label"}}}
]
}
